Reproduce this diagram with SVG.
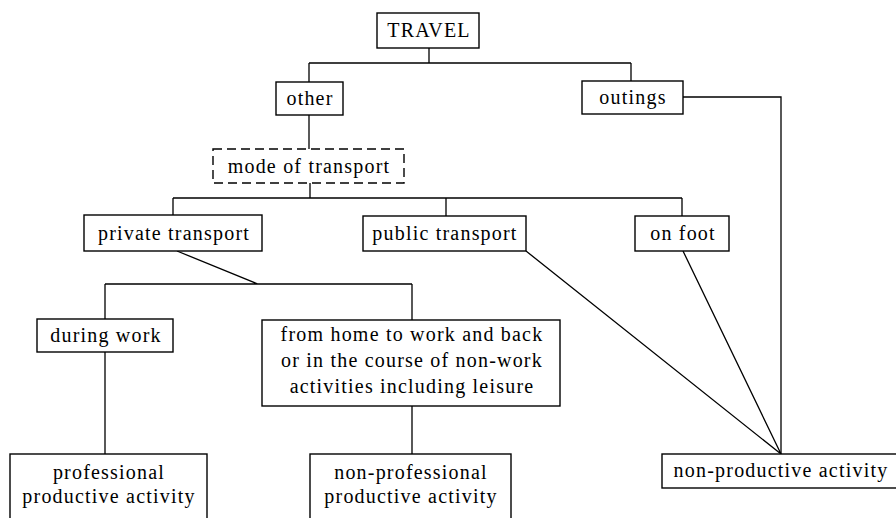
<svg xmlns="http://www.w3.org/2000/svg" width="896" height="518" viewBox="0 0 896 518">
<style>
rect{fill:#fff;stroke:#000;stroke-width:1.4}
.dash{stroke-dasharray:9 5}
text{font-family:"Liberation Serif","Times New Roman",serif;font-size:20px;letter-spacing:1.2px;text-anchor:middle;fill:#000}
#connectors path{fill:none;stroke:#000;stroke-width:1.3}
</style>
<rect x="0" y="0" width="896" height="518" style="fill:#fff;stroke:none"/>
<g id="connectors">
<path d="M429 48V63M309 63H631M309 63V82M631 63V81"/>
<path d="M683 97H781V454"/>
<path d="M309 115V149"/>
<path d="M310 183V198M173 198H682M173 198V215M446 198V216M682 198V216"/>
<path d="M177 251L258 284M105 284H412M105 284V319M412 284V320"/>
<path d="M105 352V454M412 406V454"/>
<path d="M526 251L781 454M683 251L781 454"/>
</g>
<g id="travel"><rect x="377" y="13" width="102" height="35"/><text x="429" y="37">TRAVEL</text></g>
<g id="other"><rect x="276" y="82" width="67" height="33"/><text x="310" y="105">other</text></g>
<g id="outings"><rect x="582" y="81" width="101" height="33"/><text x="633" y="104">outings</text></g>
<g id="mode"><rect class="dash" x="213" y="149" width="191" height="34"/><text x="309" y="173">mode of transport</text></g>
<g id="private"><rect x="84" y="215" width="178" height="36"/><text x="174" y="240">private transport</text></g>
<g id="public"><rect x="363" y="216" width="163" height="35"/><text x="445" y="240">public transport</text></g>
<g id="onfoot"><rect x="635" y="216" width="94" height="35"/><text x="683" y="240">on foot</text></g>
<g id="during"><rect x="37" y="319" width="136" height="33"/><text x="106" y="342">during work</text></g>
<g id="fromhome"><rect x="262" y="320" width="298" height="86"/>
<text x="412" y="341">from home to work and back</text>
<text x="412" y="367">or in the course of non-work</text>
<text x="412" y="393">activities including leisure</text></g>
<g id="professional"><rect x="10" y="454" width="197" height="80"/>
<text x="109" y="479">professional</text>
<text x="109" y="503">productive activity</text></g>
<g id="nonprofessional"><rect x="310" y="454" width="201" height="80"/>
<text x="411" y="479">non-professional</text>
<text x="411" y="503">productive activity</text></g>
<g id="nonproductive"><rect x="662" y="454" width="250" height="34"/><text x="781" y="477">non-productive activity</text></g>
</svg>
